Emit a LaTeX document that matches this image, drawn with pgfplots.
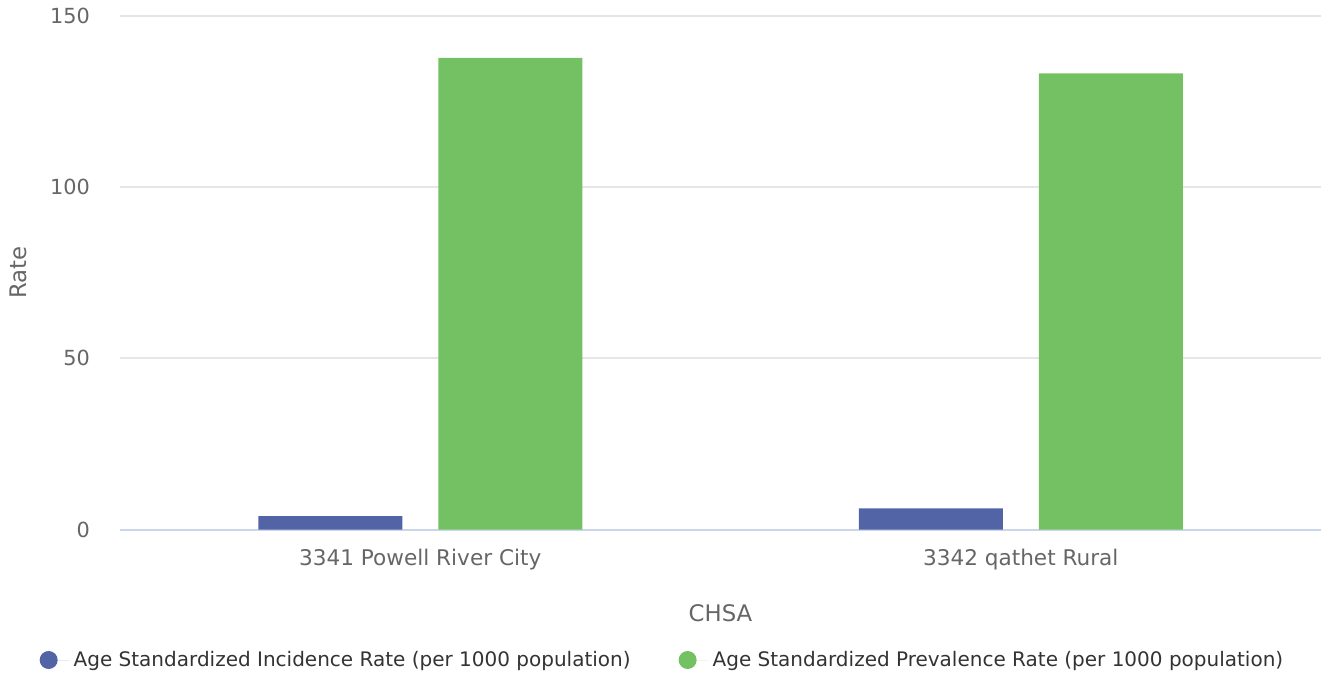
\documentclass[border=0pt]{standalone}
\usepackage{pgfplots}
\pgfplotsset{compat=1.18}
\usepackage{fontspec}
\setmainfont{DejaVu Sans}

\definecolor{incid}{RGB}{83,100,166}
\definecolor{preval}{RGB}{116,193,99}
\definecolor{ticktext}{HTML}{666666}
\definecolor{legtext}{HTML}{333333}
\definecolor{gridc}{HTML}{E6E6E6}
\definecolor{basec}{HTML}{CCD6EB}

\begin{document}
\begin{tikzpicture}
\path[use as bounding box] (0,0) rectangle (660.5pt,338.5pt);
\begin{axis}[
  at={(60pt,73.75pt)}, anchor=south west,
  scale only axis, width=600.5pt, height=257pt,
  ybar, bar width=72pt,
  xmin=-0.5, xmax=1.5, ymin=0, ymax=150,
  xtick={0,1},
  xticklabels={3341 Powell River City, 3342 qathet Rural},
  ytick={0,50,100,150},
  axis x line*=bottom, axis y line*=left,
  y axis line style={draw=none},
  x axis line style={basec, line width=1pt},
  major tick length=0pt,
  ymajorgrids, grid style={gridc, line width=1pt},
  /pgf/number format/assume math mode=true,
  ticklabel style={font=\fontsize{10.4}{12}\selectfont, text=ticktext},
  yticklabel style={xshift=-11.5pt},
  xticklabel style={yshift=-6.5pt, font=\fontsize{10.8}{13}\selectfont},
  xlabel={CHSA}, ylabel={Rate},
  label style={font=\fontsize{11.4}{13}\selectfont, text=ticktext},
  xlabel style={at={([yshift=-41.75pt]axis description cs:0.5,0)}, anchor=center},
  ylabel style={at={([xshift=-51pt]axis description cs:0,0.5)}, anchor=center},
  legend columns=2,
  legend style={at={([yshift=-65.25pt]axis description cs:0.4525,0)}, anchor=center,
    draw=none, fill=none, font=\fontsize{10}{12}\selectfont, text=legtext,
    /tikz/every even column/.append style={column sep=22pt}},
  legend cell align=left,
  legend image code/.code={\fill[#1] (0pt,0pt) circle (4.5pt); \path (-4.5pt,0pt) -- (10.5pt,0pt);},
]
\addplot[fill=incid, draw=none, bar shift=-45pt] coordinates {(0,3.9) (1,6.2)};
\addlegendentry{Age Standardized Incidence Rate (per 1000 population)}
\addplot[fill=preval, draw=none, bar shift=45pt] coordinates {(0,137.6) (1,133.1)};
\addlegendentry{Age Standardized Prevalence Rate (per 1000 population)}
\end{axis}
\end{tikzpicture}
\end{document}
